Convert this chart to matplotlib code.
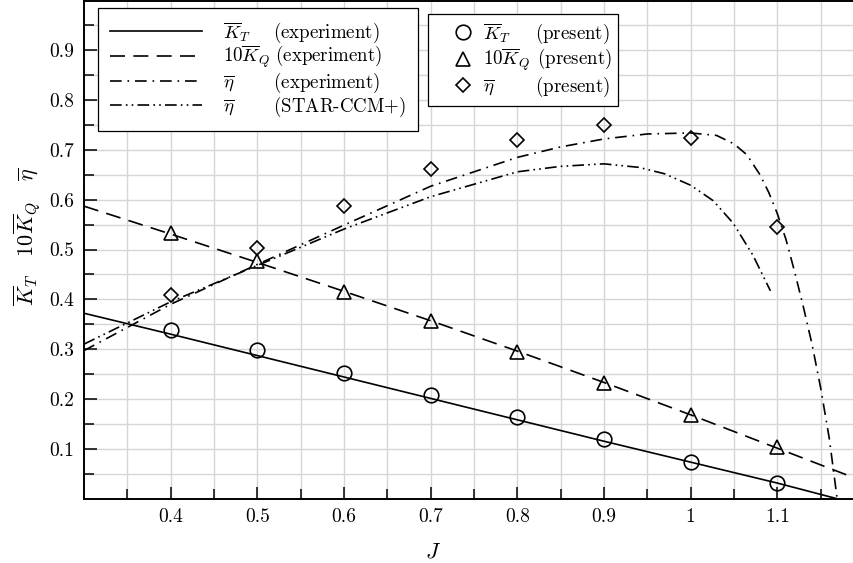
import matplotlib
matplotlib.use('Agg')
import matplotlib.pyplot as plt
from matplotlib.ticker import FixedLocator, FuncFormatter

plt.rcParams['font.family'] = 'serif'
plt.rcParams['font.serif'] = ['cmr10']
plt.rcParams['mathtext.fontset'] = 'cm'
plt.rcParams['axes.formatter.use_mathtext'] = True

# ---------------- data ----------------
J_present = [0.4, 0.5, 0.6, 0.7, 0.8, 0.9, 1.0, 1.1]
KT_present = [0.338, 0.298, 0.253, 0.208, 0.164, 0.119, 0.074, 0.031]
KQ10_present = [0.534, 0.476, 0.414, 0.356, 0.294, 0.232, 0.167, 0.104]
eta_present = [0.408, 0.503, 0.587, 0.662, 0.720, 0.751, 0.724, 0.545]

J_KT_exp = [0.3, 0.4, 0.5, 0.6, 0.7, 0.8, 0.9, 1.0, 1.1, 1.168]
KT_exp = [0.372, 0.330, 0.287, 0.244, 0.201, 0.158, 0.115, 0.073, 0.031, 0.0]

J_KQ_exp = [0.3, 0.4, 0.5, 0.6, 0.7, 0.8, 0.9, 1.0, 1.1, 1.2]
KQ10_exp = [0.587, 0.531, 0.474, 0.416, 0.357, 0.296, 0.233, 0.168, 0.101, 0.034]

J_eta_exp = [0.3, 0.4, 0.5, 0.6, 0.7, 0.8, 0.85, 0.9, 0.95, 1.0, 1.03, 1.05,
             1.065, 1.08, 1.09, 1.1, 1.11, 1.12, 1.13, 1.14, 1.15, 1.16, 1.169]
eta_exp = [0.297, 0.39, 0.47, 0.549, 0.627, 0.685, 0.706, 0.722, 0.732, 0.734,
           0.729, 0.712, 0.69, 0.65, 0.615, 0.572, 0.52, 0.455, 0.385, 0.31,
           0.222, 0.12, 0.0]

J_eta_cfd = [0.3, 0.4, 0.5, 0.6, 0.7, 0.8, 0.85, 0.9, 0.94, 0.97, 1.0,
             1.026, 1.049, 1.072, 1.092]
eta_cfd = [0.31, 0.395, 0.468, 0.541, 0.606, 0.656, 0.667, 0.672, 0.665, 0.652,
           0.629, 0.598, 0.553, 0.488, 0.417]

x_major = [0.4, 0.5, 0.6, 0.7, 0.8, 0.9, 1.0, 1.1]
x_minor = [0.35, 0.45, 0.55, 0.65, 0.75, 0.85, 0.95, 1.05, 1.15]
y_major = [0.1, 0.2, 0.3, 0.4, 0.5, 0.6, 0.7, 0.8, 0.9]
y_minor = [0.05, 0.15, 0.25, 0.35, 0.45, 0.55, 0.65, 0.75, 0.85, 0.95]

sym_exp = [r'$\overline{K}_T$', r'$10\overline{K}_Q$', r'$\overline{\eta}$', r'$\overline{\eta}$']
desc_exp = ['(experiment)', '(experiment)', '(experiment)', '(STAR-CCM+)']
sym_pre = [r'$\overline{K}_T$', r'$10\overline{K}_Q$', r'$\overline{\eta}$']
desc_pre = ['(present)', '(present)', '(present)']

# ---------------- figure ----------------
W, H = 854, 563
fig = plt.figure(figsize=(W / 100, H / 100), dpi=100)
ax = fig.add_axes([84 / W, (H - 498.5) / H, 780 / W, 498 / H])
ax.set_xlim(0.3, 1.2)
ax.set_ylim(0.0, 1.0)

lw = 1.2
dash = (0, (9, 5))
dashdot = (0, (7, 3.5, 1, 3.5))
dashdotdot = (0, (7, 2.5, 1, 2.5, 1, 2.5))

l1, = ax.plot(J_KT_exp, KT_exp, color='black', lw=lw, ls='-')
l2, = ax.plot(J_KQ_exp, KQ10_exp, color='black', lw=lw, ls=dash)
l3, = ax.plot(J_eta_exp, eta_exp, color='black', lw=lw, ls=dashdot)
l4, = ax.plot(J_eta_cfd, eta_cfd, color='black', lw=lw, ls=dashdotdot)

mk = dict(color='black', mfc='none', mec='black', mew=1.2, ls='none')
m1, = ax.plot(J_present, KT_present, marker='o', ms=10.5, **mk)
m2, = ax.plot(J_present, KQ10_present, marker='^', ms=10.5, **mk)
m3, = ax.plot(J_present, eta_present, marker='D', ms=7.5, **mk)

# ticks & grid
ax.xaxis.set_major_locator(FixedLocator(x_major))
ax.xaxis.set_minor_locator(FixedLocator(x_minor))
ax.yaxis.set_major_locator(FixedLocator(y_major))
ax.yaxis.set_minor_locator(FixedLocator(y_minor))
fmt = FuncFormatter(lambda v, p: '%g' % round(v, 3))
ax.xaxis.set_major_formatter(fmt)
ax.yaxis.set_major_formatter(fmt)
ax.grid(True, which='both', color='#d6d6d6', lw=1.0, zorder=0)
ax.set_axisbelow(True)
ax.tick_params(which='both', direction='in', top=False, right=False,
               width=1.1, color='black', labelsize=14, pad=7)
ax.tick_params(which='major', length=9)
ax.tick_params(which='minor', length=7.5)
for s in ax.spines.values():
    s.set_linewidth(1.4)

ax.set_xlabel(r'$J$', fontsize=16)
ax.xaxis.set_label_coords(0.447, -0.088)
ax.set_ylabel(r'$\overline{K}_T\quad 10\overline{K}_Q\quad \overline{\eta}$', fontsize=16)
ax.yaxis.set_label_coords(-0.052, 0.525)

# ---------------- legends with aligned description column ----------------
renderer = fig.canvas.get_renderer()
LFS = 13.6


def text_w(s):
    t = fig.text(0, 0, s, fontsize=LFS)
    w = t.get_window_extent(renderer).width
    t.remove()
    return w


unit = (text_w(r'$a\hspace{10}a$') - text_w(r'$aa$')) / 10.0


def aligned(syms, descs, gap_px):
    widths = [text_w(s) for s in syms]
    mw = max(widths)
    out = []
    for s, w, d in zip(syms, widths, descs):
        sp = (mw - w + gap_px) / unit
        out.append(s[:-1] + r'\hspace{%.3f}$' % sp + d)
    return out


labels1 = aligned(sym_exp, desc_exp, 5)
labels2 = aligned(sym_pre, desc_pre, 7)

leg1 = ax.legend([l1, l2, l3, l4], labels1, loc='upper left',
                 bbox_to_anchor=((98 - 84) / 780, (498.5 - 8) / 498),
                 borderaxespad=0, fontsize=LFS, frameon=True, fancybox=False,
                 framealpha=1, edgecolor='black', handlelength=4.9,
                 handletextpad=1.1, labelspacing=-0.02, borderpad=0.62)
leg1.get_frame().set_linewidth(0.9)
ax.add_artist(leg1)

leg2 = ax.legend([m1, m2, m3], labels2, loc='upper left',
                 bbox_to_anchor=((428 - 84) / 780, (498.5 - 14) / 498),
                 borderaxespad=0, fontsize=LFS, frameon=True, fancybox=False,
                 framealpha=1, edgecolor='black', handlelength=3.0,
                 handletextpad=-0.45, labelspacing=0.06, borderpad=0.35)
leg2.get_frame().set_linewidth(0.9)

fig.savefig('out.png', dpi=100)
